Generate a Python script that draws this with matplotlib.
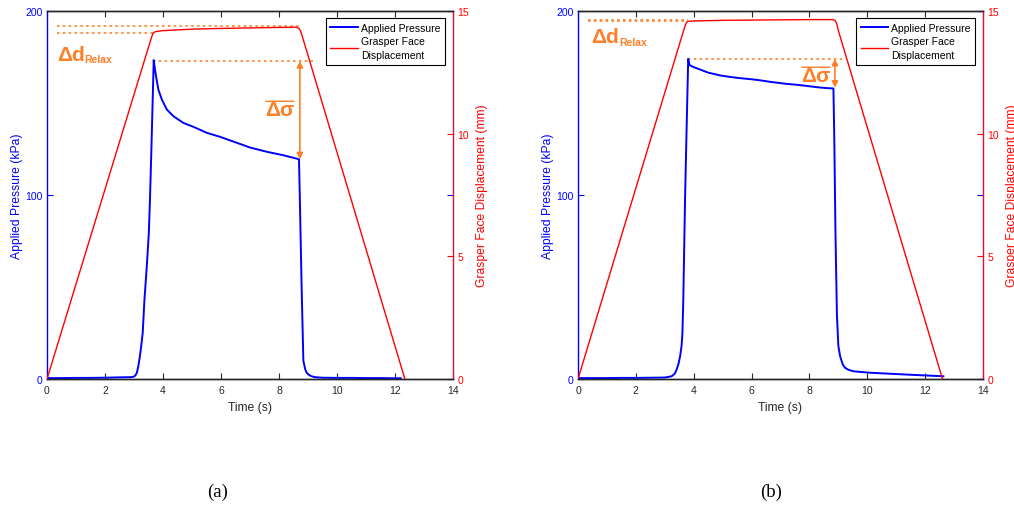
import matplotlib
matplotlib.use("Agg")
import matplotlib.pyplot as plt

plt.rcParams['font.family'] = ['Liberation Sans', 'DejaVu Sans']

# ---------------- data ----------------
xticks = [0, 2, 4, 6, 8, 10, 12, 14]
p_ticks = [0, 100, 200]
d_ticks = [0, 5, 10, 15]

# panel (a) applied pressure (kPa)
t_a_p = [0.0, 0.5, 1.0, 1.5, 2.0, 2.5, 2.9, 3.0, 3.05, 3.1, 3.15, 3.2, 3.25, 3.3,
         3.36, 3.44, 3.51, 3.55, 3.6, 3.68, 3.72, 3.76, 3.84, 3.96, 4.13, 4.36, 4.7,
         5.04, 5.51, 5.97, 6.54, 7.0, 7.3, 7.58, 7.85, 8.15,
         8.4, 8.6, 8.69, 8.72, 8.78, 8.84, 8.9, 8.95, 9.01, 9.1, 9.24, 9.5, 10.0,
         10.5, 11.0, 11.5, 12.0, 12.2]
p_a = [0.5, 0.5, 0.6, 0.6, 0.7, 0.9, 1.0, 1.3, 2.0, 3.5, 7, 12, 18, 25,
       43, 61, 79, 97, 125, 173.3, 168.5, 164.6, 157.3, 151.9, 146.5, 142.8, 139.2,
       137.1, 133.8, 131.6, 128.4, 125.8, 124.6, 123.5, 122.6, 121.6,
       120.6, 119.8, 119.4, 97, 50, 10, 5.5, 3.5, 2.5, 1.6, 1.0, 0.7, 0.6,
       0.6, 0.5, 0.5, 0.4, 0.4]

# panel (a) grasper face displacement (mm)
t_a_d = [0.0, 3.55, 3.62, 3.66, 3.72, 3.8, 4.0, 4.5, 5.0, 6.0, 7.0, 8.0, 8.6, 8.68, 8.74, 8.8, 12.34]
d_a = [0.0, 13.72, 13.98, 14.1, 14.15, 14.17, 14.2, 14.23, 14.26, 14.29, 14.31, 14.33, 14.34, 14.3, 14.2, 13.98, 0.0]

# panel (b) applied pressure (kPa)
t_b_p = [0.0, 0.5, 1.0, 1.5, 2.0, 2.5, 3.0, 3.24, 3.35, 3.41, 3.47, 3.53, 3.58, 3.61,
         3.64, 3.7, 3.76, 3.81, 3.84, 3.87, 4.0, 4.22, 4.5, 4.91, 5.2, 5.49, 5.8,
         6.06, 6.35, 6.64, 6.9, 7.21, 7.5, 7.79, 8.1, 8.37, 8.6, 8.83, 8.86, 8.9,
         8.95, 9.0, 9.06, 9.15, 9.23, 9.35, 9.52, 9.8, 10.09, 10.6, 11.24, 11.9, 12.63]
p_b = [0.5, 0.5, 0.5, 0.6, 0.6, 0.7, 0.8, 1.5, 3, 5.2, 8, 12.4, 18, 25,
       43, 97.5, 140, 174, 171.5, 170.5, 169.5, 168.2, 166.5, 165, 164.3, 163.7, 163.2,
       162.8, 162.2, 161.5, 161, 160.4, 160, 159.5, 158.9, 158.4, 158.1, 157.9, 130, 80,
       35, 18, 12.4, 8, 6.1, 5, 4.2, 3.8, 3.4, 3.0, 2.5, 2.0, 1.5]

# panel (b) grasper face displacement (mm)
t_b_d = [0.0, 3.65, 3.72, 3.76, 3.82, 3.9, 4.2, 5.0, 6.0, 7.0, 8.0, 8.8, 8.88, 8.94, 9.0, 12.6]
d_b = [0.0, 14.2, 14.45, 14.55, 14.58, 14.59, 14.6, 14.62, 14.63, 14.64, 14.65, 14.65, 14.62, 14.5, 14.2, 0.0]

# annotation values
ann_a = dict(p_peak=172.8, p_end=119.4, t_arrow=8.72, t_peak=3.66, t_dot_end=9.24,
             d_hi=14.39, d_lo=14.11, t_d_start=0.35, t_hi_end=8.68, t_lo_end=3.66,
             sig_pos=(8.03, 146.5), drel_pos=(0.34, 173.6))
ann_b = dict(p_peak=174.0, p_end=158.3, t_arrow=8.88, t_peak=3.81, t_dot_end=9.11,
             d_hi=14.64, d_lo=14.58, t_d_start=0.35, t_hi_end=3.8, t_lo_end=3.76,
             sig_pos=(8.22, 165.0), drel_pos=(0.47, 182.9))

# ---------------- styling ----------------
BLUE = '#0000FF'
RED = '#FF0000'
ORANGE = '#FF7F27'
AXC = '#262626'
W, H = 1014, 510

fig = plt.figure(figsize=(W / 100, H / 100), dpi=100)
fig.patch.set_facecolor('white')


def panel(left_px, width_px, tp, pp, td, dd, ann, letter, letter_x):
    bottom_px, top_px = 380, 12
    ax = fig.add_axes([left_px / W, 1 - bottom_px / H, width_px / W, (bottom_px - top_px) / H])
    ax2 = ax.twinx()

    lp, = ax.plot(tp, pp, color=BLUE, lw=1.4, zorder=3)
    ld, = ax2.plot(td, dd, color=RED, lw=1.0, zorder=3)

    ax.set_xlim(0, 14)
    ax.set_ylim(0, 200)
    ax2.set_ylim(0, 15)
    ax.set_xticks(xticks)
    ax.set_yticks(p_ticks)
    ax2.set_yticks(d_ticks)

    for s in ['top', 'bottom']:
        ax.spines[s].set_color(AXC)
        ax2.spines[s].set_color(AXC)
    ax.spines['left'].set_color(BLUE)
    ax.spines['right'].set_visible(False)
    ax2.spines['left'].set_visible(False)
    ax2.spines['right'].set_color('#E0103A')
    for sp in list(ax.spines.values()) + list(ax2.spines.values()):
        sp.set_linewidth(1.0)

    ax.tick_params(axis='x', direction='in', top=True, length=4, width=0.8,
                   colors=AXC, labelsize=7.5, pad=4)
    ax.tick_params(axis='y', direction='in', right=True, labelright=False, length=4,
                   width=0.8, colors=BLUE, labelsize=7.5, pad=3)
    ax2.tick_params(axis='y', direction='in', length=4, width=0.8, colors=RED,
                    labelsize=7.5, pad=3)

    ax.set_xlabel('Time (s)', fontsize=8.7, color=AXC)
    ax.xaxis.set_label_coords(0.5, -0.076)
    ax.xaxis.label.set_va('center')
    ax.set_ylabel('Applied Pressure (kPa)', fontsize=8.7, color=BLUE)
    ax.yaxis.set_label_coords(-30.3 / width_px, 0.5)
    ax.yaxis.label.set_va('center')
    ax2.set_ylabel('Grasper Face Displacement (mm)', fontsize=8.7, color=RED)
    ax2.yaxis.set_label_coords(1 + 28.7 / width_px, 0.5)
    ax2.yaxis.label.set_va('center')

    # orange annotations
    dash = dict(color=ORANGE, lw=1.2, dashes=(1.5, 2.0), zorder=2)
    ax.plot([ann['t_peak'], ann['t_dot_end']], [ann['p_peak'], ann['p_peak']], **dash)
    ax2.plot([ann['t_d_start'], ann['t_hi_end']], [ann['d_hi'], ann['d_hi']], **dash)
    ax2.plot([ann['t_d_start'], ann['t_lo_end']], [ann['d_lo'], ann['d_lo']], **dash)
    ax2.annotate('', xy=(ann['t_arrow'], ann['p_peak']), xycoords=ax.transData,
                 xytext=(ann['t_arrow'], ann['p_end']), textcoords=ax.transData,
                 arrowprops=dict(arrowstyle='<|-|>', color=ORANGE, lw=1.2,
                                 mutation_scale=9, shrinkA=0, shrinkB=0))
    sig = ax2.text(ann['sig_pos'][0], ann['sig_pos'][1], 'Δσ', transform=ax.transData,
                   ha='center', va='center', fontsize=15, fontweight='bold', color=ORANGE)
    ax2.annotate('', xy=(0.02, 0.93), xycoords=sig, xytext=(0.98, 0.93), textcoords=sig,
                 arrowprops=dict(arrowstyle='-', color=ORANGE, lw=1.0, shrinkA=0, shrinkB=0))
    dd_t = ax2.text(ann['drel_pos'][0], ann['drel_pos'][1], 'Δd', transform=ax.transData,
                    ha='left', va='baseline', fontsize=15, fontweight='bold', color=ORANGE)
    ax2.annotate('Relax', xy=(1.0, 0.24), xycoords=dd_t, ha='left', va='center',
                 fontsize=7.5, fontweight='bold', color=ORANGE)

    leg = ax2.legend([lp, ld], ['Applied Pressure', 'Grasper Face\nDisplacement'],
                     loc='upper right', bbox_to_anchor=(0.98, 0.981), borderaxespad=0,
                     fontsize=7.5, frameon=True, fancybox=False, framealpha=1,
                     edgecolor='black', handlelength=2.6, handletextpad=0.3,
                     labelspacing=0.35, borderpad=0.45)
    for t in leg.get_texts():
        t.set_linespacing(1.45)
    leg.get_frame().set_linewidth(0.8)

    fig.text(letter_x / W, 1 - 492 / H, letter, ha='center', va='center',
             fontsize=13.5, family=['Liberation Serif', 'DejaVu Serif'], color='black')
    return ax, ax2


panel(47, 406, t_a_p, p_a, t_a_d, d_a, ann_a, '(a)', 218)
panel(578, 405, t_b_p, p_b, t_b_d, d_b, ann_b, '(b)', 771)

fig.savefig('out.png', dpi=100, facecolor='white')
